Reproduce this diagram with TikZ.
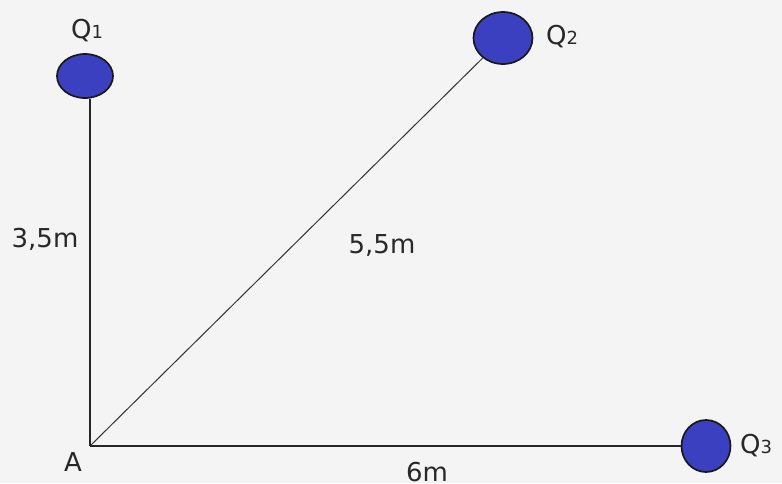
\documentclass[tikz,border=0pt]{standalone}
\usepackage{fontspec}
\setmainfont{DejaVu Sans}
\usetikzlibrary{shapes.geometric}

\definecolor{paper}{RGB}{244,244,244}
\definecolor{chargeblue}{RGB}{58,64,192}
\definecolor{labeltext}{RGB}{40,40,40}

\tikzset{
  charge/.style={ellipse, draw=black!90, line width=1.7pt, fill=chargeblue, inner sep=0pt},
  lbl/.style={text=labeltext, inner sep=0pt, font=\fontsize{26}{30}\selectfont},
  arm/.style={line width=1.6pt, black!85},
}
\newcommand{\qname}[1]{Q{\fontsize{18}{20}\selectfont #1}}

\begin{document}
\begin{tikzpicture}[x=1pt, y=-1pt]
    \fill[paper] (0,0) rectangle (782,483);
    \useasboundingbox (0,0) rectangle (782,483);

    \coordinate (A) at (90,446);

    \node[charge, minimum width=56pt, minimum height=44pt] (q1) at (85,76) {};
    \node[charge, minimum width=59pt, minimum height=52pt] (q2) at (503,38) {};
    \node[charge, minimum width=49pt, minimum height=52pt] (q3) at (706,446) {};

    \draw[arm] (A) -- (A |- q1.south);
    \draw[line width=1pt, black!80] (A) -- (q2);
    \draw[arm] (A) -- (q3);

    \node[lbl] (l1) at (87,31) {\qname{1}};
    \node[lbl] (l2) at (562,37) {\qname{2}};
    \node[lbl, anchor=west] (l3) at (740,446) {\qname{3}};
    \node[lbl] (la) at (73,462) {A};

    \node[lbl] (d1) at (45,239) {3,5m};
    \node[lbl] (d2) at (382,246) {5,5m};
    \node[lbl] (d3) at (427,472) {6m};
  \end{tikzpicture}
\end{document}
